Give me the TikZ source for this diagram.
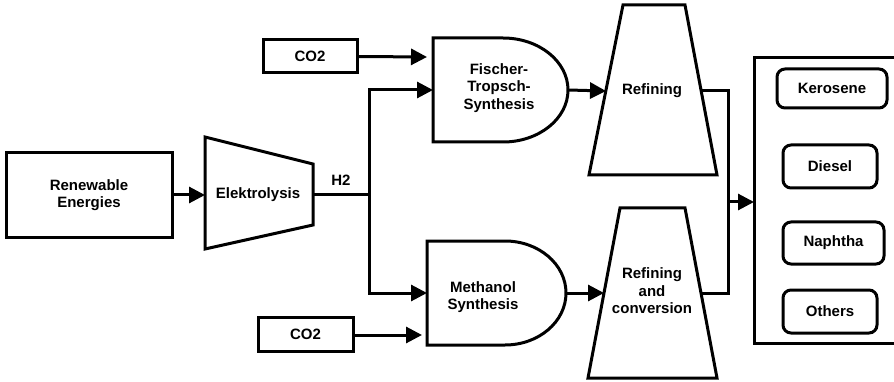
\documentclass[tikz,border=0pt]{standalone}
\usepackage{fontspec}
\setmainfont{Liberation Sans}
\usetikzlibrary{arrows.meta}
\begin{document}
\begin{tikzpicture}[x=1pt,y=-1pt,
  line width=3pt, line join=miter,
  every node/.style={font=\bfseries\fontsize{15}{17.5}\selectfont, align=center, inner sep=0pt},
  box/.style={draw, line width=3pt},
  rbox/.style={draw, line width=3pt, rounded corners=8pt},
  lbl/.style={},
  arr/.style={-{Triangle[length=16pt,width=16pt]}}]
\useasboundingbox (0,0) rectangle (894,382);
% sources
\node[box, minimum width=166pt, minimum height=84pt] (re) at (89,195) {Renewable\\Energies};
\node[box, minimum width=94pt, minimum height=33pt] (co2a) at (310,56.5) {CO2};
\node[box, minimum width=95pt, minimum height=34pt] (co2b) at (305.5,334) {CO2};
% Elektrolysis
\draw (205,137) -- (313,164) -- (313,225) -- (205,249) -- cycle;
\node[lbl] (el) at (258,195) {Elektrolysis};
\coordinate (elw) at (205,195);
\coordinate (ele) at (313,195);
\node[lbl] (h2) at (341,180) {H2};
\coordinate (j) at (369,195);
% Fischer-Tropsch
\draw (433,38) -- (503,38) arc[start angle=-90, end angle=90, x radius=65, y radius=52] -- (433,142) -- cycle;
\node[lbl] (ft) at (499,88) {Fischer-\\Tropsch-\\Synthesis};
\coordinate (ftw) at (433,90);
\coordinate (ftwa) at (427,57);
\coordinate (fte) at (568,90);
% Methanol
\draw (427,241) -- (505,241) arc[start angle=-90, end angle=90, x radius=61, y radius=52] -- (427,345) -- cycle;
\node[lbl] (me) at (483,297) {Methanol\\Synthesis};
\coordinate (mew) at (427,293);
\coordinate (mewb) at (422,335);
\coordinate (mee) at (566,293);
% Refining
\draw (623,5) -- (685,5) -- (717,175) -- (589,175) -- cycle;
\node[lbl] (rf) at (652,91) {Refining};
\coordinate (rfw) at (606,91);
\coordinate (rfe) at (701,91);
% Refining and conversion
\draw (620,208) -- (685,208) -- (717,378) -- (588,378) -- cycle;
\node[lbl] (rc) at (652,291) {Refining\\and\\conversion};
\coordinate (rcw) at (604,293);
\coordinate (rce) at (701,293);
% products
\draw (898,58) -- (754,58) -- (754,343) -- (898,343);
\coordinate (pw) at (754,202);
\coordinate (pj) at (728,202);
\node[rbox, minimum width=110pt, minimum height=39pt] (ke) at (832,88.5) {Kerosene};
\node[rbox, minimum width=94pt, minimum height=43pt] (di) at (830,166.5) {Diesel};
\node[rbox, minimum width=101pt, minimum height=42pt] (na) at (833.5,243) {Naphtha};
\node[rbox, minimum width=94pt, minimum height=43pt] (ot) at (830,311.5) {Others};
% connectors
\draw[arr] (re.east) -- (elw);
\draw (ele) -- (j);
\draw[arr] (j) |- (ftw);
\draw[arr] (j) |- (mew);
\draw[arr] (co2a.east) -- (ftwa);
\draw[arr] (co2b.east |- mewb) -- (mewb);
\draw[arr] (fte) -- (rfw);
\draw[arr] (mee) -- (rcw);
\draw (rfe) -| (pj);
\draw (rce) -| (pj);
\draw[arr] (pj) -- (pw);
\end{tikzpicture}
\end{document}
